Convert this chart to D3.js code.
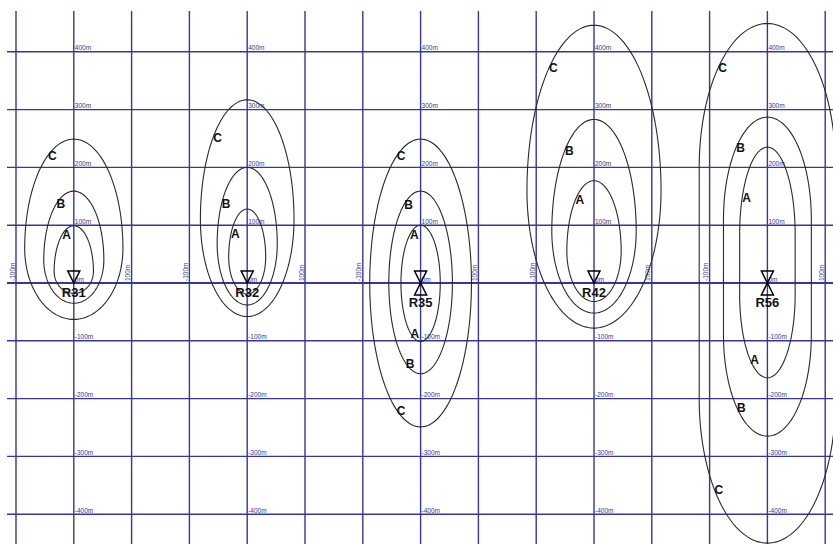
<!DOCTYPE html>
<html lang="en">
<head>
<meta charset="UTF-8">
<title>Noise contours</title>
<style>
    html, body { margin: 0; padding: 0; background: #fff; overflow: hidden; }
    svg { display: block; font-family: "Liberation Sans", Arial, sans-serif; }
</style>
</head>
<body>
<script src="https://cdn.jsdelivr.net/npm/d3@7"></script>
<script>
    // receivers and contour levels
    const receivers = ["R31", "R32", "R35", "R42", "R56"];
    const levels = ["A", "B", "C"];

    // contour extents in metres, one row per receiver, columns A, B, C
    const contourTop = [[99, 159, 249], [128, 200, 317], [100, 159, 249], [177, 283, 446], [235, 287, 449]];
    const contourBottom = [[-18, -35, -63], [-19, -38, -58], [-101, -157, -249], [-32, -52, -78], [-164, -265, -450]];
    const contourHalfWidth = [[34, 52, 85], [32, 52, 81], [34, 55, 88], [47, 73, 116], [48, 76, 118]];
    // height of widest part (upper / lower end of the straight side)
    const waistUpper = [[20, 40, 60], [45, 68, 110], [0, 0, 0], [55, 90, 160], [85, 110, 200]];
    const waistLower = [[20, 40, 60], [45, 68, 110], [0, 0, 0], [55, 90, 160], [-20, -90, -200]];
    // height of the A/B/C labels (lower ones only for two-sided receivers)
    const labelUpper = [[84, 137, 221], [85, 138, 252], [84, 136, 220], [144, 230, 372], [148, 235, 373]];
    const labelLower = [null, null, [-87, -139, -220], null, [-133, -216, -358]];

    // axis ticks
    const yTickValues = [400, 300, 200, 100, 0, -100, -200, -300, -400];
    const yTickLabels = ["400m", "300m", "200m", "100m", "0m", "-100m", "-200m", "-300m", "-400m"];
    const xTickValues = [-100, 100];
    const xTickLabels = ["-100m", "100m"];
    const panelSpacing = 300;

    const W = 833, H = 544;
    const gridColor = "#36369c";

    const svg = d3.select("body").append("svg")
        .attr("width", W)
        .attr("height", H);

    const x = d3.scaleLinear().domain([0, 1200]).range([73.8, 767.4]);
    const y = d3.scaleLinear().domain([-400, 400]).range([514.2, 51.8]);

    // grid
    const grid = svg.append("g");
    grid.selectAll("line.v")
        .data(d3.range(-100, 1401, 100))
        .join("line")
        .attr("class", "v")
        .attr("x1", d => x(d)).attr("x2", d => x(d))
        .attr("y1", 11).attr("y2", H)
        .attr("stroke", gridColor)
        .attr("stroke-width", 1.4);
    grid.selectAll("line.h")
        .data(yTickValues)
        .join("line")
        .attr("class", "h")
        .attr("x1", 7).attr("x2", W)
        .attr("y1", d => y(d)).attr("y2", d => y(d))
        .attr("stroke", gridColor)
        .attr("stroke-width", d => d === 0 ? 2 : 1.4);

    const panels = receivers.map((name, i) => ({
        name,
        offset: i * panelSpacing,
        twoSided: labelLower[i] !== null,
        contours: levels.map((level, j) => ({
            level,
            top: contourTop[i][j],
            bottom: contourBottom[i][j],
            half: contourHalfWidth[i][j],
            wU: waistUpper[i][j],
            wL: waistLower[i][j],
            labU: labelUpper[i][j],
            labL: labelLower[i] ? labelLower[i][j] : null
        }))
    }));

    function outline(c) {
        const pts = [], n = 72;
        for (let k = 0; k <= n; k++) {
            const t = Math.PI * k / n;
            pts.push([c.half * Math.cos(t), c.wU + (c.top - c.wU) * Math.sin(t)]);
        }
        for (let k = 0; k <= n; k++) {
            const t = Math.PI + Math.PI * k / n;
            pts.push([c.half * Math.cos(t), c.wL + (c.wL - c.bottom) * Math.sin(t)]);
        }
        return pts;
    }

    // left edge of a contour at height h
    function leftAt(c, h) {
        let s = 0;
        if (h > c.wU) s = (h - c.wU) / (c.top - c.wU);
        else if (h < c.wL) s = (c.wL - h) / (c.wL - c.bottom);
        s = Math.min(1, s);
        return -c.half * Math.sqrt(1 - s * s);
    }

    panels.forEach(p => {
        const g = svg.append("g");
        const cx = x(p.offset);

        // vertical tick labels along the receiver line
        g.selectAll("text.yt")
            .data(yTickValues)
            .join("text")
            .attr("x", cx + 1)
            .attr("y", d => y(d) - 1.5)
            .attr("font-size", 6.5)
            .attr("fill", gridColor)
            .text((d, k) => yTickLabels[k]);

        // rotated tick labels along the 0 m line
        g.selectAll("text.xt")
            .data(xTickValues)
            .join("text")
            .attr("transform", d => `translate(${x(p.offset + d) - 1.5},${y(0) - 2}) rotate(-90)`)
            .attr("font-size", 6.5)
            .attr("fill", gridColor)
            .text((d, k) => xTickLabels[k]);

        const line = d3.line()
            .x(d => x(p.offset + d[0]))
            .y(d => y(d[1]))
            .curve(d3.curveLinearClosed);

        g.selectAll("path.contour")
            .data(p.contours)
            .join("path")
            .attr("d", d => line(outline(d)))
            .attr("fill", "none")
            .attr("stroke", "#2a2a2a")
            .attr("stroke-width", 1.1);

        const labels = [];
        p.contours.forEach(c => {
            labels.push({ level: c.level, h: c.labU, c });
            if (c.labL !== null) labels.push({ level: c.level, h: c.labL, c });
        });
        g.selectAll("text.lev")
            .data(labels)
            .join("text")
            .attr("x", d => x(p.offset + leftAt(d.c, d.h)))
            .attr("y", d => y(d.h) + 4.5)
            .attr("font-size", 12)
            .attr("font-weight", "bold")
            .attr("fill", "#111")
            .text(d => d.level);

        // receiver marker
        const y0 = y(0), tw = 6, th = 12;
        let m = `M${cx - tw},${y0 - th} L${cx + tw},${y0 - th} L${cx},${y0} Z`;
        if (p.twoSided) m += ` M${cx - tw},${y0 + th} L${cx + tw},${y0 + th} L${cx},${y0} Z`;
        g.append("path")
            .attr("d", m)
            .attr("fill", "none")
            .attr("stroke", "#000")
            .attr("stroke-width", 1.5);

        g.append("text")
            .attr("x", cx)
            .attr("y", y0 + (p.twoSided ? 24 : 14))
            .attr("text-anchor", "middle")
            .attr("font-size", 13)
            .attr("font-weight", "bold")
            .attr("fill", "#111")
            .text(p.name);
    });
</script>
</body>
</html>
